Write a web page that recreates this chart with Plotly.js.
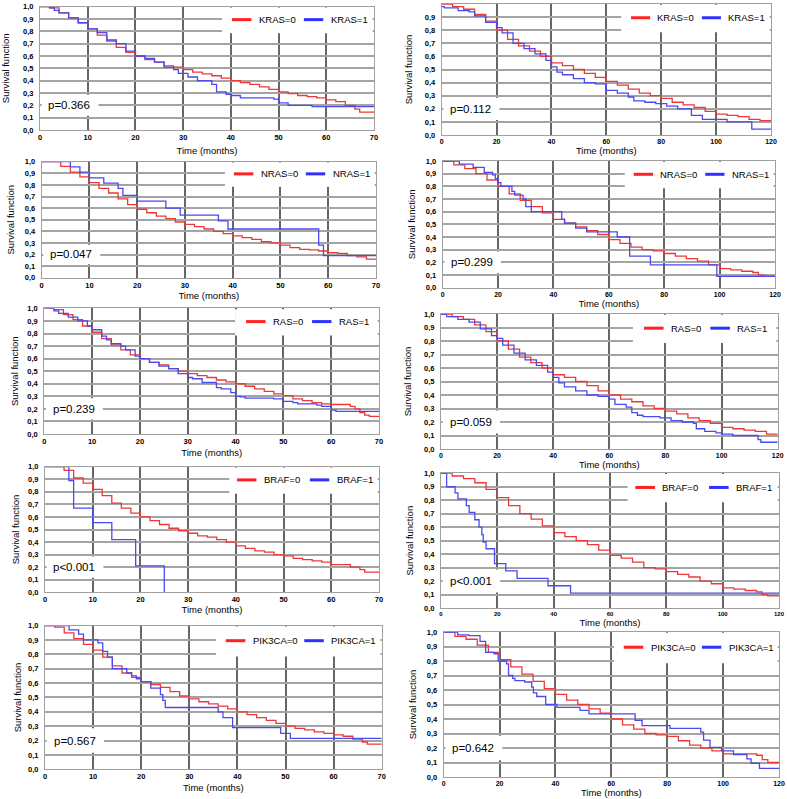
<!DOCTYPE html>
<html><head><meta charset="utf-8">
<script src="https://cdn.plot.ly/plotly-3.0.1.min.js"></script>
<style>html,body{margin:0;padding:0;background:#fff}</style>
</head><body><div id="chart" style="width:787px;height:799px"></div>
<script>
// ---------- data ----------
const genes = ['KRAS','KRAS','NRAS','NRAS','RAS','RAS','BRAF','BRAF','PIK3CA','PIK3CA'];
const pTexts = ['p=0.366','p=0.112','p=0.047','p=0.299','p=0.239','p=0.059','p<0.001','p<0.001','p=0.567','p=0.642'];
const xMax = [70,120,70,120,70,120,70,120,70,120];
const xDtick = [10,20,10,20,10,20,10,20,10,20];

const kras70_t0 = [0,2,4,6,8,10,12,14,16,18,20,22,24,26,28,30,32,34,36,38,40,42,44,46,48,50,52,54,56,58,60,62,64,66,67,70];
const kras70_s0 = [1,0.99,0.95,0.91,0.87,0.82,0.77,0.72,0.67,0.63,0.60,0.57,0.55,0.52,0.51,0.49,0.47,0.455,0.44,0.42,0.40,0.385,0.37,0.35,0.33,0.31,0.295,0.28,0.27,0.26,0.245,0.23,0.20,0.17,0.145,0.145];
const kras70_t1 = [0,2,3,4,6,8,10,12,14,16,18,20,22,24,26,28,29,31,33,36,37,39,40,42,49,50,52,57,70];
const kras70_s1 = [1,0.99,0.97,0.95,0.91,0.87,0.82,0.79,0.73,0.70,0.64,0.60,0.58,0.55,0.51,0.49,0.46,0.43,0.40,0.37,0.31,0.29,0.28,0.26,0.25,0.22,0.20,0.19,0.19];

const kras120_t0 = [0,4,8,12,16,20,24,28,32,36,40,44,48,52,56,60,64,68,72,76,80,84,88,92,96,100,104,108,112,116,120];
const kras120_s0 = [1,0.98,0.96,0.92,0.87,0.80,0.73,0.68,0.64,0.60,0.55,0.53,0.50,0.47,0.44,0.41,0.38,0.35,0.32,0.30,0.28,0.25,0.23,0.21,0.18,0.16,0.15,0.14,0.12,0.11,0.11];
const kras120_t1 = [0,1,6,10,12,16,20,22,26,30,34,38,40,42,44,48,52,56,60,64,68,70,74,78,82,86,91,95,101,104,113,120];
const kras120_s1 = [0.98,0.97,0.95,0.94,0.91,0.86,0.82,0.78,0.70,0.66,0.62,0.57,0.52,0.48,0.46,0.43,0.40,0.39,0.34,0.32,0.29,0.26,0.25,0.24,0.22,0.20,0.15,0.12,0.12,0.10,0.045,0.045];

const nras70_t0 = [0,2,4,6,8,10,12,14,16,18,20,22,24,26,28,30,32,34,36,38,40,42,44,46,48,50,52,54,56,58,60,62,64,66,68,70];
const nras70_s0 = [1,1,0.96,0.91,0.87,0.82,0.77,0.73,0.68,0.63,0.59,0.56,0.53,0.51,0.48,0.46,0.44,0.42,0.40,0.38,0.36,0.345,0.33,0.31,0.30,0.28,0.26,0.245,0.24,0.23,0.215,0.21,0.19,0.18,0.16,0.155];
const nras70_t1 = [0,6,8,10,13,16,17,20,26,29,37,39,58,59,70];
const nras70_s1 = [1,0.955,0.91,0.86,0.815,0.77,0.71,0.66,0.60,0.54,0.49,0.42,0.28,0.19,0.19];

const nras120_t0 = [0,4,8,12,16,20,24,28,32,36,40,44,48,52,56,60,64,68,72,76,80,84,88,92,96,100,104,108,112,114,116,120];
const nras120_s0 = [1,0.97,0.94,0.90,0.85,0.80,0.74,0.69,0.64,0.59,0.54,0.51,0.48,0.45,0.42,0.38,0.35,0.32,0.30,0.29,0.27,0.25,0.23,0.21,0.18,0.15,0.14,0.13,0.12,0.10,0.09,0.09];
const nras120_t1 = [0,6,11,15,18,19,20,21,25,26,29,30,32,43,44,48,52,63,67.5,75,99,120];
const nras120_s1 = [1,0.975,0.95,0.91,0.89,0.86,0.83,0.80,0.76,0.73,0.70,0.64,0.60,0.54,0.51,0.47,0.44,0.40,0.25,0.18,0.09,0.09];

const ras70_t0 = [0,2,4,6,8,10,12,14,16,18,20,22,24,26,28,30,32,34,36,38,40,42,44,46,48,50,52,54,56,58,60,62,64,65,66,67,68,70];
const ras70_s0 = [1,0.99,0.95,0.91,0.86,0.81,0.76,0.71,0.67,0.63,0.60,0.57,0.55,0.52,0.50,0.48,0.465,0.45,0.43,0.415,0.40,0.38,0.36,0.34,0.32,0.305,0.28,0.265,0.25,0.24,0.235,0.235,0.22,0.20,0.17,0.15,0.14,0.14];
const ras70_t1 = [0,2,3,5,7,9,10,12,13,14,16,17,19,20,22,24,26,28,30,31,33,36,37,39,40,41,42,48,50,52,53,57,58,60,61,70];
const ras70_s1 = [1,0.98,0.96,0.93,0.90,0.86,0.83,0.78,0.75,0.72,0.70,0.67,0.62,0.60,0.57,0.54,0.52,0.48,0.45,0.44,0.41,0.37,0.36,0.33,0.30,0.295,0.285,0.28,0.26,0.25,0.24,0.23,0.22,0.19,0.18,0.18];

const ras120_t0 = [0,4,8,12,16,20,24,28,32,36,40,44,48,52,56,60,64,68,72,76,80,84,88,92,96,100,104,108,112,116,120];
const ras120_s0 = [1,0.98,0.96,0.92,0.87,0.80,0.74,0.68,0.64,0.60,0.55,0.53,0.50,0.47,0.43,0.40,0.37,0.35,0.32,0.30,0.28,0.26,0.23,0.21,0.19,0.16,0.15,0.14,0.13,0.11,0.11];
const ras120_t1 = [0,2,6,10,14,18,20,22,26,30,34,38,40,42,44,48,52,56,60,62,66,68,70,72,78,82,86,90,91,94,98,100,104,111,113,114,120];
const ras120_s1 = [1,0.98,0.96,0.94,0.89,0.84,0.82,0.77,0.71,0.66,0.62,0.57,0.53,0.49,0.46,0.43,0.40,0.39,0.37,0.33,0.31,0.27,0.25,0.24,0.23,0.21,0.20,0.19,0.15,0.13,0.12,0.11,0.10,0.10,0.07,0.05,0.05];

const braf70_t0 = [0,2,4,6,8,10,12,14,16,18,20,22,24,26,28,30,32,34,36,38,40,42,44,46,48,50,52,54,56,58,60,62,64,66,67,70];
const braf70_s0 = [1,1,0.97,0.91,0.87,0.82,0.77,0.71,0.67,0.63,0.60,0.57,0.54,0.51,0.49,0.47,0.45,0.44,0.42,0.40,0.37,0.35,0.33,0.32,0.30,0.29,0.27,0.26,0.25,0.24,0.22,0.22,0.20,0.18,0.16,0.16];
const braf70_t1 = [0,5,6,10,14,19,25];
const braf70_s1 = [1,0.89,0.67,0.555,0.42,0.21,0];

const braf120_t0 = [0,4,8,12,16,20,24,28,32,36,40,44,48,52,56,60,64,68,72,76,80,84,88,92,96,100,104,108,112,114,116,120];
const braf120_s0 = [1,0.98,0.96,0.93,0.88,0.82,0.76,0.70,0.66,0.61,0.56,0.53,0.50,0.47,0.43,0.39,0.37,0.34,0.30,0.29,0.27,0.25,0.23,0.20,0.18,0.15,0.14,0.13,0.12,0.10,0.09,0.09];
const braf120_t1 = [0,2,5,6,9,10,12,13.5,14.5,15,16,19,23,27,38,46,120];
const braf120_s1 = [1,0.90,0.855,0.81,0.76,0.71,0.655,0.60,0.545,0.49,0.44,0.33,0.275,0.22,0.165,0.11,0.11];

const pik70_t0 = [0,2,4,6,8,10,12,14,16,18,20,22,24,26,28,30,32,34,36,38,40,42,44,46,48,50,52,54,56,58,60,62,64,66,67,70];
const pik70_s0 = [1,0.99,0.95,0.91,0.87,0.83,0.78,0.72,0.67,0.64,0.61,0.59,0.57,0.54,0.51,0.49,0.47,0.455,0.44,0.42,0.40,0.38,0.36,0.34,0.32,0.30,0.285,0.275,0.26,0.25,0.24,0.23,0.21,0.19,0.175,0.17];
const pik70_t1 = [0,5,7,8,11,12,13,14,17,18,19,20,22,24,24.5,25,36,37,39,49,51,70];
const pik70_s1 = [1,0.97,0.94,0.90,0.88,0.82,0.78,0.70,0.67,0.65,0.63,0.61,0.565,0.52,0.48,0.43,0.40,0.36,0.29,0.25,0.215,0.215];

const pik120_t0 = [0,4,8,12,16,20,24,28,32,36,40,44,48,52,56,60,64,68,72,76,80,84,88,92,96,100,104,108,112,114,116,120];
const pik120_s0 = [1,0.97,0.95,0.91,0.86,0.81,0.76,0.71,0.66,0.61,0.57,0.53,0.50,0.47,0.44,0.40,0.36,0.33,0.30,0.29,0.28,0.25,0.22,0.20,0.18,0.16,0.16,0.16,0.15,0.12,0.10,0.10];
const pik120_t1 = [0,5,9,13,15,18,19.5,22.5,23.2,24.7,25.5,29,31.5,32.1,33.3,36.5,40.5,48.8,52,68.5,71,81,92,93,95.3,99.5,103.7,108.5,110,113,120];
const pik120_s1 = [1,0.98,0.975,0.935,0.86,0.85,0.80,0.78,0.70,0.68,0.665,0.655,0.62,0.58,0.555,0.50,0.48,0.46,0.435,0.39,0.355,0.335,0.31,0.255,0.205,0.18,0.155,0.125,0.095,0.06,0.06];

const times0 = [kras70_t0,kras120_t0,nras70_t0,nras120_t0,ras70_t0,ras120_t0,braf70_t0,braf120_t0,pik70_t0,pik120_t0];
const surv0  = [kras70_s0,kras120_s0,nras70_s0,nras120_s0,ras70_s0,ras120_s0,braf70_s0,braf120_s0,pik70_s0,pik120_s0];
const times1 = [kras70_t1,kras120_t1,nras70_t1,nras120_t1,ras70_t1,ras120_t1,braf70_t1,braf120_t1,pik70_t1,pik120_t1];
const surv1  = [kras70_s1,kras120_s1,nras70_s1,nras120_s1,ras70_s1,ras120_s1,braf70_s1,braf120_s1,pik70_s1,pik120_s1];

// ---------- layout geometry (pixels) ----------
const W = 787, H = 799;
const boxes = [
  [40,374,6.7,130],[441.7,771,4,135],
  [41.7,376,161.7,277.7],[442.7,775,161,287.7],
  [44.3,379,308.4,434],[441,777.7,314,449],
  [45,379,466.7,592.3],[441,779,473.3,608],
  [45,381.7,625.6,769.3],[443.7,779,632,777]
];
const xStandoff = [6,0,3,0,4,0,2,0,4,0];
const xTickSize = [7.5,7,7.5,7,7.5,7,7.5,6,7.5,7];
const yStandoff = [11,10,8,8,7,10,6,8,4,8];
// legend positions (domain fractions): box start, red sample start, blue sample start
const legPos = {KRAS:[0.545,0.575,0.79], NRAS:[0.548,0.575,0.79], RAS:[0.57,0.603,0.80], BRAF:[0.552,0.575,0.793], PIK3CA:[0.508,0.537,0.77]};

const FONT = 'Liberation Sans, Arial, sans-serif';
const RED = '#ee3838', BLUE = '#4a4aee';

const data = [], shapes = [], annotations = [];
const layout = {
  width: W, height: H, margin: {l:0,r:0,t:0,b:0},
  paper_bgcolor: '#fff', plot_bgcolor: '#fff', showlegend: false,
  separators: ',.', font: {family: FONT, color: '#000'}
};

for (let i = 0; i < 10; i++) {
  const n = i === 0 ? '' : String(i + 1);
  const xa = 'x' + n, ya = 'y' + n;
  const b = boxes[i];
  layout['xaxis' + n] = {
    domain: [b[0] / W, b[1] / W], range: [0, xMax[i]], dtick: xDtick[i], tick0: 0,
    anchor: ya, showgrid: true, gridcolor: '#666666', gridwidth: 2, zeroline: false,
    showline: true, mirror: true, linecolor: '#a0a0a0', linewidth: 1,
    ticks: '', tickfont: {size: xTickSize[i], family: FONT, weight: 'bold'}, fixedrange: true,
    title: {text: 'Time (months)', font: {size: 9.5, family: FONT}, standoff: xStandoff[i]}
  };
  layout['yaxis' + n] = {
    domain: [1 - b[3] / H, 1 - b[2] / H], range: [0, 1], dtick: 0.1, tick0: 0, tickformat: '.1f',
    anchor: xa, showgrid: true, gridcolor: '#a4a4a4', gridwidth: 2, zeroline: false,
    showline: true, mirror: true, linecolor: '#a0a0a0', linewidth: 1,
    ticks: 'outside', ticklen: 4, tickcolor: 'rgba(0,0,0,0)',
    tickfont: {size: 7.5, family: FONT, weight: 'bold'}, fixedrange: true,
    title: {text: 'Survival function', font: {size: 9.5, family: FONT}, standoff: yStandoff[i]}
  };
  data.push({x: times0[i], y: surv0[i], type: 'scatter', mode: 'lines',
    line: {shape: 'hv', color: RED, width: 1.3}, xaxis: xa, yaxis: ya, name: genes[i] + '=0'});
  data.push({x: times1[i], y: surv1[i], type: 'scatter', mode: 'lines',
    line: {shape: 'hv', color: BLUE, width: 1.3}, xaxis: xa, yaxis: ya, name: genes[i] + '=1'});

  const lp = legPos[genes[i]];
  const xr = xa + ' domain', yr = ya + ' domain';
  // white boxes hiding the grid behind legend and p-value
  shapes.push({type: 'rect', xref: xr, yref: yr, x0: lp[0], x1: 0.996, y0: 0.785, y1: 0.994,
    fillcolor: '#ffffff', line: {width: 0}, layer: 'above'});
  shapes.push({type: 'rect', xref: xr, yref: yr, x0: 0.005, x1: 0.175, y0: 0.115, y1: 0.285,
    fillcolor: '#ffffff', line: {width: 0}, layer: 'above'});
  // legend samples and labels
  const ly = 0.895, sl = 0.058;
  shapes.push({type: 'line', xref: xr, yref: yr, x0: lp[1], x1: lp[1] + sl, y0: ly, y1: ly,
    line: {color: '#ff2020', width: 3}, layer: 'above'});
  shapes.push({type: 'line', xref: xr, yref: yr, x0: lp[2], x1: lp[2] + sl, y0: ly, y1: ly,
    line: {color: '#3030ff', width: 3}, layer: 'above'});
  annotations.push({xref: xr, yref: yr, x: lp[1] + sl + 0.016, y: ly, xanchor: 'left', yanchor: 'middle',
    text: genes[i] + '=0', showarrow: false, font: {size: 9.5, family: FONT, color: '#000'}});
  annotations.push({xref: xr, yref: yr, x: lp[2] + sl + 0.016, y: ly, xanchor: 'left', yanchor: 'middle',
    text: genes[i] + '=1', showarrow: false, font: {size: 9.5, family: FONT, color: '#000'}});
  annotations.push({xref: xr, yref: yr, x: 0.088, y: 0.2, xanchor: 'center', yanchor: 'middle',
    text: pTexts[i], showarrow: false, font: {size: 11.5, family: FONT, color: '#000'}});
}
layout.shapes = shapes;
layout.annotations = annotations;

Plotly.newPlot('chart', data, layout, {displayModeBar: false, staticPlot: true});
</script>
</body></html>
